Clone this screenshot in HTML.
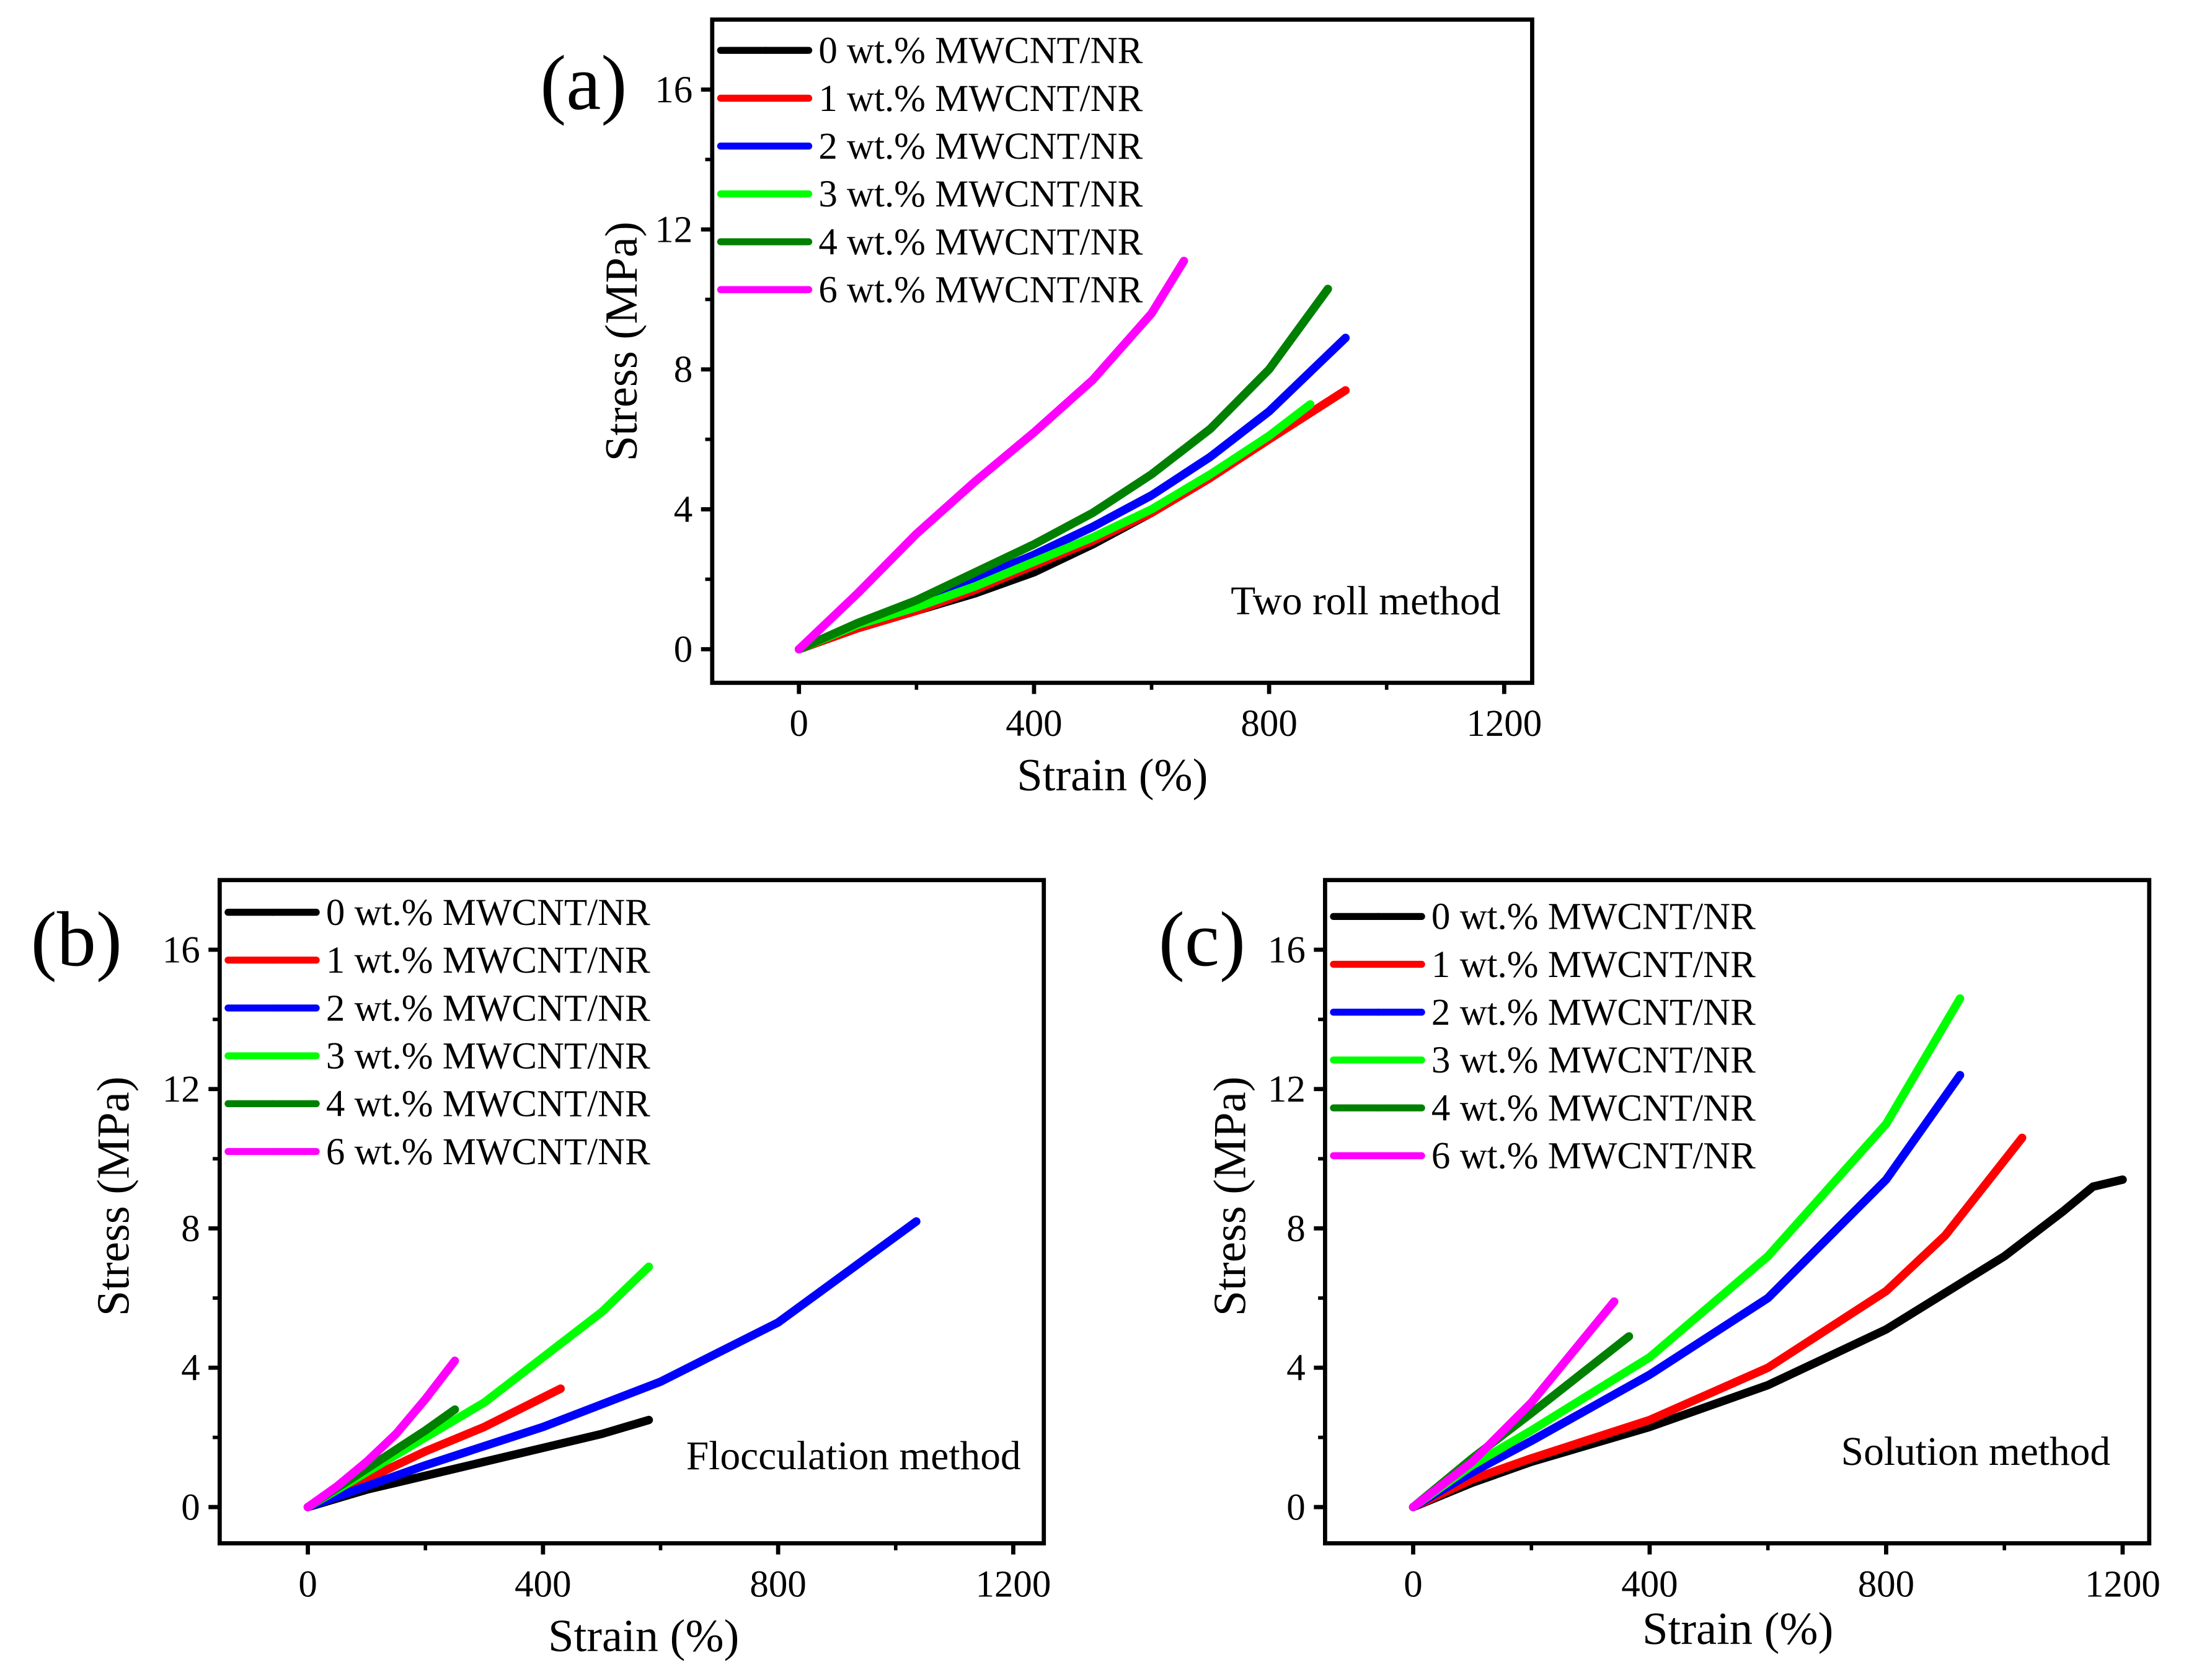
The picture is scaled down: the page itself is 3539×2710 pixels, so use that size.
<!DOCTYPE html>
<html><head><meta charset="utf-8"><style>
html,body{margin:0;padding:0;background:#fff}
svg{display:block}
text{font-family:"Liberation Serif",serif;fill:#000}
</style></head><body>
<svg id="fig" width="3539" height="2710" viewBox="0 0 1568 1200.7" preserveAspectRatio="none" xmlns="http://www.w3.org/2000/svg"></svg>
<script>
// Shared categories
const seriesLabels = ["0 wt.% MWCNT/NR","1 wt.% MWCNT/NR","2 wt.% MWCNT/NR","3 wt.% MWCNT/NR","4 wt.% MWCNT/NR","6 wt.% MWCNT/NR"];
const seriesColors = ["#000000","#ff0000","#0000ff","#00ff00","#008000","#ff00ff"];
const xTicks = [0,400,800,1200];
const yTicks = [0,4,8,12,16];
const xMinor = [200,600,1000];
const yMinor = [2,6,10,14];

// Panel (a) Two roll method
const aStrain0 = [0,100,200,300,400,500,600,700];
const aStress0 = [0,0.6,1.1,1.6,2.2,3.0,3.9,4.9];
const aStrain1 = [0,100,200,300,400,500,600,700,800,930];
const aStress1 = [0,0.6,1.1,1.7,2.4,3.1,3.9,4.9,6.0,7.4];
const aStrain2 = [0,100,200,300,400,500,600,700,800,930];
const aStress2 = [0,0.7,1.3,2.0,2.7,3.5,4.4,5.5,6.8,8.9];
const aStrain3 = [0,100,200,300,400,500,600,700,800,870];
const aStress3 = [0,0.7,1.2,1.8,2.5,3.2,4.0,5.0,6.1,7.0];
const aStrain4 = [0,100,200,300,400,500,600,700,800,900];
const aStress4 = [0,0.75,1.4,2.2,3.0,3.9,5.0,6.3,8.0,10.3];
const aStrain6 = [0,50,100,200,300,400,500,600,655];
const aStress6 = [0,0.8,1.6,3.3,4.8,6.2,7.7,9.6,11.1];

// Panel (b) Flocculation method
const bStrain0 = [0,100,200,300,400,500,580];
const bStress0 = [0,0.5,0.9,1.3,1.7,2.1,2.5];
const bStrain1 = [0,100,200,300,430];
const bStress1 = [0,0.8,1.6,2.3,3.4];
const bStrain2 = [0,100,200,400,600,800,1035];
const bStress2 = [0,0.6,1.2,2.3,3.6,5.3,8.2];
const bStrain3 = [0,100,200,300,400,500,580];
const bStress3 = [0,1.0,2.0,3.0,4.3,5.6,6.9];
const bStrain4 = [0,100,200,250];
const bStress4 = [0,1.1,2.2,2.8];
const bStrain6 = [0,50,100,150,200,250];
const bStress6 = [0,0.6,1.3,2.1,3.1,4.2];

// Panel (c) Solution method
const cStrain0 = [0,100,200,400,600,800,1000,1100,1150,1200];
const cStress0 = [0,0.7,1.3,2.3,3.5,5.1,7.2,8.5,9.2,9.4];
const cStrain1 = [0,100,200,400,600,800,900,1030];
const cStress1 = [0,0.8,1.4,2.5,4.0,6.2,7.8,10.6];
const cStrain2 = [0,100,200,400,600,800,925];
const cStress2 = [0,1.0,1.9,3.8,6.0,9.4,12.4];
const cStrain3 = [0,100,200,400,600,800,925];
const cStress3 = [0,1.2,2.2,4.3,7.2,11.0,14.6];
const cStrain4 = [0,100,200,365];
const cStress4 = [0,1.4,2.7,4.9];
const cStrain6 = [0,100,200,340];
const cStress6 = [0,1.3,3.0,5.9];

const NS="http://www.w3.org/2000/svg";
const svg=document.getElementById('fig');
function mk(tag,attrs,parent){const e=document.createElementNS(NS,tag);for(const k in attrs)e.setAttribute(k,attrs[k]);(parent||svg).appendChild(e);return e;}

function panel(cfg){
  const g=mk('g',{});
  
  
  const X=v=>cfg.x0+(v-cfg.xmin)/(cfg.xmax-cfg.xmin)*(cfg.x1-cfg.x0);
  const Y=v=>cfg.y1-(v-cfg.ymin)/(cfg.ymax-cfg.ymin)*(cfg.y1-cfg.y0);
  cfg.series.forEach((s,i)=>{
    let pts=s[0].map((v,j)=>X(v).toFixed(2)+','+Y(s[1][j]).toFixed(2)).join(' ');
    const p=mk('polyline',{points:pts,fill:'none',stroke:seriesColors[i],'stroke-width':6,'stroke-linejoin':'round','stroke-linecap':'round'},g);
    
    
  });
  const fr=mk('rect',{x:cfg.x0,y:cfg.y0,width:cfg.x1-cfg.x0,height:cfg.y1-cfg.y0,fill:'none',stroke:'#000','stroke-width':3},g);
  
  
  xTicks.forEach(t=>{
    mk('line',{x1:X(t),x2:X(t),y1:cfg.y1,y2:cfg.y1+8,stroke:'#000','stroke-width':3},g);
    const tx=mk('text',{x:X(t),y:cfg.y1+38,'text-anchor':'middle','font-size':27},g);
    tx.textContent=t;
    
    
  });
  xMinor.forEach(t=>mk('line',{x1:X(t),x2:X(t),y1:cfg.y1,y2:cfg.y1+5,stroke:'#000','stroke-width':2.5},g));
  yTicks.forEach(t=>{
    mk('line',{x1:cfg.x0-8,x2:cfg.x0,y1:Y(t),y2:Y(t),stroke:'#000','stroke-width':3},g);
    const tx=mk('text',{x:cfg.x0-14,y:Y(t)+9,'text-anchor':'end','font-size':27},g);
    tx.textContent=t;
    
    
  });
  yMinor.forEach(t=>mk('line',{x1:cfg.x0-5,x2:cfg.x0,y1:Y(t),y2:Y(t),stroke:'#000','stroke-width':2.5},g));
  const xt=mk('text',{x:cfg.xtx,y:cfg.xty,'text-anchor':'middle','font-size':33},g);
  xt.textContent='Strain (%)';
  
  
  const yt=mk('text',{x:0,y:0,'text-anchor':'middle','font-size':33,transform:`translate(${cfg.ytx},${cfg.yty}) rotate(-90)`},g);
  yt.textContent='Stress (MPa)';
  
  
  const pl=mk('text',{x:cfg.plx,y:cfg.ply,'font-size':56},g);
  pl.textContent=cfg.letter;
  
  
  const mt=mk('text',{x:cfg.mtx,y:cfg.mty,'text-anchor':'middle','font-size':29},g);
  mt.textContent=cfg.method;
  
  
  seriesLabels.forEach((lab,i)=>{
    const ly=cfg.ly0+i*34.2;
    const lg=mk('g',{},g);
    
    
    mk('line',{x1:cfg.lx,x2:cfg.lx+63,y1:ly,y2:ly,stroke:seriesColors[i],'stroke-width':5,'stroke-linecap':'round'},lg);
    mk('circle',{cx:cfg.lx+32,cy:ly,r:2.5,fill:seriesColors[i]},lg);
    const t=mk('text',{x:cfg.lx+70,y:ly+9,'font-size':27},lg);
    t.textContent=lab;
  });
}

panel({name:'panel-a-two-roll',x0:509,x1:1095,y0:14,y1:488,xmin:-147.6,xmax:1247.6,ymin:-0.96,ymax:18,
  series:[[aStrain0,aStress0],[aStrain1,aStress1],[aStrain2,aStress2],[aStrain3,aStress3],[aStrain4,aStress4],[aStrain6,aStress6]],
  xtx:795,xty:565,ytx:455,yty:244,plx:386,ply:78,letter:'(a)',mtx:976,mty:439,method:'Two roll method',lx:515,ly0:36});
panel({name:'panel-b-flocculation',x0:157,x1:746,y0:629,y1:1103,xmin:-150,xmax:1252,ymin:-1.04,ymax:18,
  series:[[bStrain0,bStress0],[bStrain1,bStress1],[bStrain2,bStress2],[bStrain3,bStress3],[bStrain4,bStress4],[bStrain6,bStress6]],
  xtx:460,xty:1180,ytx:92,yty:855,plx:22,ply:690,letter:'(b)',mtx:610,mty:1050,method:'Flocculation method',lx:163,ly0:652});
panel({name:'panel-c-solution',x0:947,x1:1536,y0:629,y1:1103,xmin:-149,xmax:1245,ymin:-1.04,ymax:18,
  series:[[cStrain0,cStress0],[cStrain1,cStress1],[cStrain2,cStress2],[cStrain3,cStress3],[cStrain4,cStress4],[cStrain6,cStress6]],
  xtx:1242,xty:1175,ytx:890,yty:855,plx:828,ply:690,letter:'(c)',mtx:1412,mty:1047,method:'Solution method',lx:953,ly0:655});
</script>
</body></html>
